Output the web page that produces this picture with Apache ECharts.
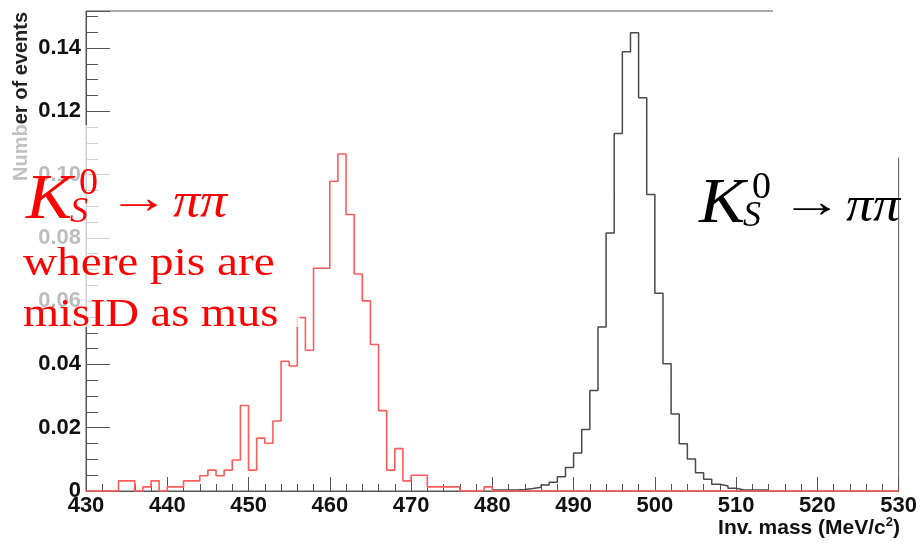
<!DOCTYPE html>
<html>
<head>
<meta charset="utf-8">
<script src="https://cdn.jsdelivr.net/npm/echarts@6/dist/echarts.min.js"></script>
<style>html,body{margin:0;padding:0;background:#fff;}#c{width:920px;height:543px;}</style>
</head>
<body>
<div id="c"></div>
<script>
// ---- data (bin width 1 MeV) ----
const xTicks = [430, 440, 450, 460, 470, 480, 490, 500, 510, 520, 530];
const yTicks = [0, 0.02, 0.04, 0.06, 0.08, 0.10, 0.12, 0.14];
const redStart = 430;   // misID K_S -> pi pi (as mu mu), bins 430..479
const redValues = [
  0, 0, 0, 0, 0.0032, 0.0032, 0, 0.0013, 0.0032, 0,
  0.0013, 0.0013, 0.0032, 0.0032, 0.0048, 0.0066, 0.0048, 0.0066, 0.0098, 0.0270,
  0.0066, 0.0167, 0.0151, 0.0221, 0.0410, 0.0395, 0.0548, 0.0445, 0.0704, 0.0704,
  0.0979, 0.1065, 0.0874, 0.0686, 0.0601, 0.0463, 0.0254, 0.0066, 0.0134, 0.0032,
  0.0050, 0.0050, 0.0013, 0.0013, 0.0013, 0.0013, 0, 0, 0, 0.0013
];
const blackStart = 480; // K_S -> pi pi, bins 480..513
const blackValues = [
  0.0003, 0.0003, 0.0003, 0.0005, 0.0008, 0.0012, 0.0019, 0.0028, 0.0045, 0.0074,
  0.0120, 0.0194, 0.0318, 0.0518, 0.0815, 0.1130, 0.1388, 0.1448, 0.1243, 0.0937,
  0.0625, 0.0402, 0.0243, 0.0149, 0.0101, 0.0058, 0.0037, 0.0021, 0.0016, 0.0009,
  0.0003, 0.0003, 0.0003, 0.0003
];
const xMin = 430, xMax = 530, yMax = 0.1517;

function histPoints(start, values, end) {
  const pts = values.map((v, i) => [start + i, v]);
  pts.push([start + values.length, 0]);
  if (end > start + values.length) pts.push([end, 0]);
  return pts;
}

function kLabel(dx, dy, color) {
  const serif = '"Liberation Serif"';
  return [
    {type:'text', x: 26 + dx, y: 201 + dy, scaleX: 1.08, z: 60, style:{text:'K', font:'italic 64px ' + serif, fill: color, verticalAlign:'middle'}},
    {type:'text', x: 79 + dx, y: 184 + dy, z: 60, style:{text:'0', font:'38px ' + serif, fill: color, verticalAlign:'middle'}},
    {type:'text', x: 70 + dx, y: 213 + dy, z: 60, style:{text:'S', font:'italic 36px ' + serif, fill: color, verticalAlign:'middle'}},
    {type:'text', x: 108 + dx, y: 201 + dy, scaleX: 1.35, z: 60, style:{text:'\u2192', font:'46px ' + serif, fill: color, verticalAlign:'middle'}},
    {type:'text', x: 173 + dx, y: 204 + dy, scaleX: 1.08, z: 60, style:{text:'\u03c0\u03c0', font:'italic 50px ' + serif, fill: color, verticalAlign:'middle'}}
  ];
}

const chart = echarts.init(document.getElementById('c'), null, {renderer:'canvas'});
const axisColor = '#555';
const labelFont = {fontFamily:'"Liberation Sans"', fontWeight:'bold', fontSize:22, color:'#111'};

chart.setOption({
  animation: false,
  grid: {left: 86, right: 20, top: 11, bottom: 52, show: true, borderColor: axisColor, borderWidth: 1, backgroundColor: 'transparent'},
  xAxis: {
    type: 'value', min: xMin, max: xMax, interval: 10,
    axisLine: {show: true, lineStyle: {color: axisColor, width: 1}},
    axisTick: {show: true, inside: true, length: 14, lineStyle: {color: axisColor, width: 1}},
    minorTick: {show: true, splitNumber: 5, length: 7, lineStyle: {color: axisColor, width: 1}},
    splitLine: {show: false},
    axisLabel: Object.assign({margin: 4, formatter: v => xTicks.includes(v) ? String(v) : ''}, labelFont)
  },
  yAxis: {
    type: 'value', min: 0, max: yMax, interval: 0.02,
    axisLine: {show: true, lineStyle: {color: axisColor, width: 1}},
    axisTick: {show: true, inside: true, length: 24, lineStyle: {color: axisColor, width: 1}},
    minorTick: {show: true, splitNumber: 4, length: 12, lineStyle: {color: axisColor, width: 1}},
    splitLine: {show: false},
    axisLabel: Object.assign({margin: 5, showMaxLabel: false,
      formatter: v => { const t = yTicks.find(k => Math.abs(k - v) < 1e-9); return t === undefined ? '' : (t === 0 ? '0' : t.toFixed(2)); }}, labelFont)
  },
  series: [
    {type:'line', step:'end', showSymbol:false, clip:false, z: 3,
     data: histPoints(blackStart, blackValues, blackStart + blackValues.length),
     lineStyle: {color:'#4a4a4a', width:1.5}},
    {type:'line', step:'end', showSymbol:false, clip:false, z: 4,
     data: histPoints(redStart, redValues, xMax),
     lineStyle: {color:'#ff5c5c', width:1.6}}
  ],
  graphic: [
    {type:'text', x: 21, y: 12, rotation: Math.PI/2, z: 10,
     style:{text:'Number of events', font:'bold 20px "Liberation Sans"', fill:'#222', align:'right', verticalAlign:'middle'}},
    {type:'text', x: 900, y: 527, z: 10,
     style:{text:'{a|Inv. mass (MeV/c}{s|2}{a|)}', align:'right', verticalAlign:'middle',
       rich:{a:{font:'bold 21px "Liberation Sans"', fill:'#111', verticalAlign:'bottom'},
             s:{font:'bold 13px "Liberation Sans"', fill:'#111', verticalAlign:'top', padding:[0,0,10,0]}}}},
    {type:'rect', z: 50, shape:{x:0, y:125, width:300, height:202}, style:{fill:'rgba(255,255,255,0.72)'}},
    {type:'rect', z: 50, shape:{x:773, y:0, width:147, height:157.5}, style:{fill:'#ffffff'}},
    ...kLabel(0, 0, '#ff0000'),
    ...kLabel(673, 4, '#000000'),
    {type:'text', x: 23, y: 264, scaleX: 1.18, z: 60, style:{text:'where pis are', font:'40px "Liberation Serif"', fill:'#ff0000', verticalAlign:'middle'}},
    {type:'text', x: 23, y: 315, scaleX: 1.16, z: 60, style:{text:'misID as mus', font:'40px "Liberation Serif"', fill:'#ff0000', verticalAlign:'middle'}}
  ]
});
</script>
</body>
</html>
